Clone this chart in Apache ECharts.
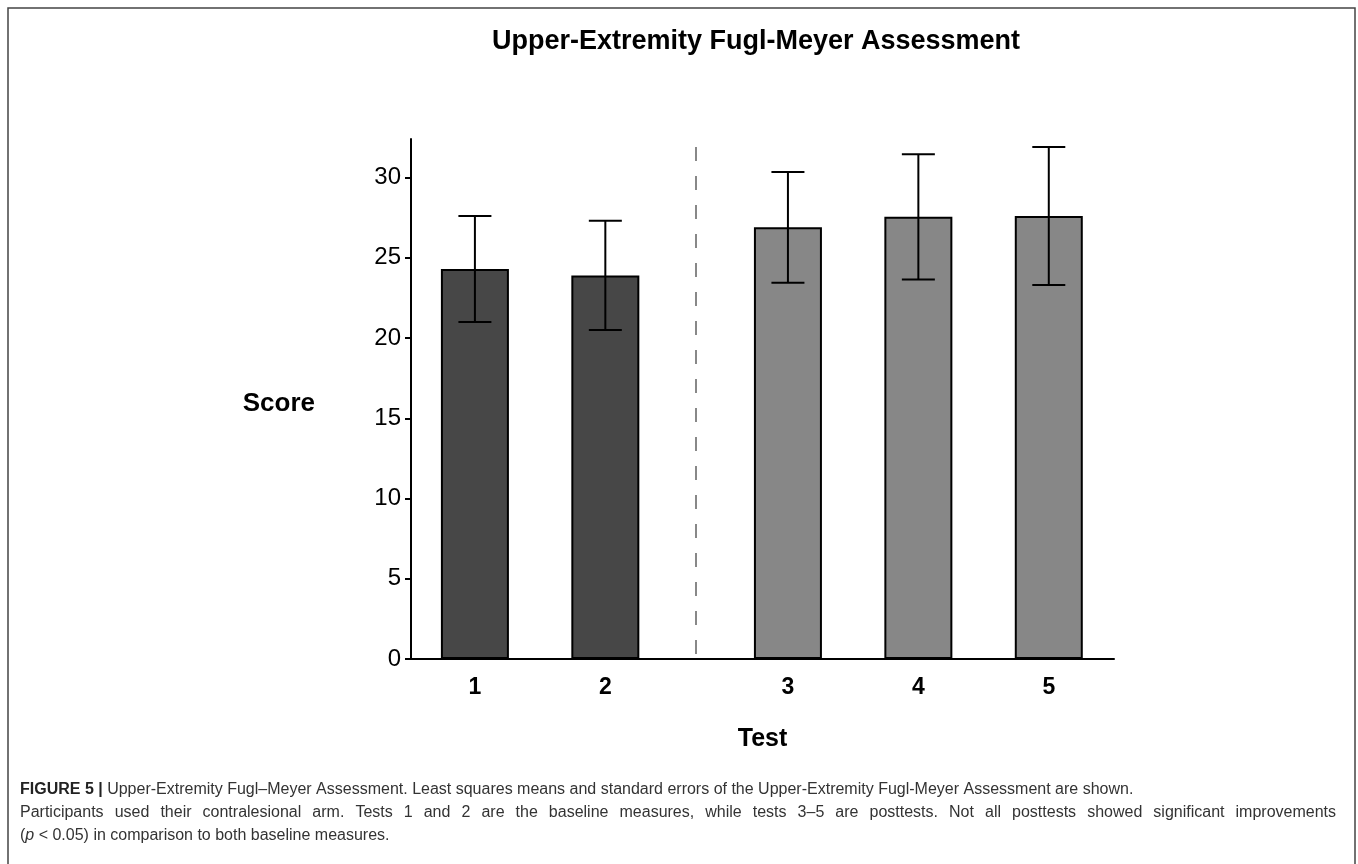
<!DOCTYPE html>
<html>
<head>
<meta charset="utf-8">
<title>Upper-Extremity Fugl-Meyer Assessment</title>
<script src="https://cdn.jsdelivr.net/npm/echarts@6/dist/echarts.min.js"></script>
<style>
  html, body { margin: 0; padding: 0; background: #fff; }
  #chart { width: 1358px; height: 864px; }
</style>
</head>
<body>
<div id="chart"></div>
<script>
// Tests, their phase, least squares means and standard errors
const tests = ['1', '2', '3', '4', '5'];
const phases = ['baseline', 'baseline', 'post', 'post', 'post'];
const means = [24.3, 23.9, 26.9, 27.55, 27.6];
const stdErrors = [3.3, 3.4, 3.45, 3.9, 4.3];
const yTicks = [0, 5, 10, 15, 20, 25, 30];

// Caption lines
const captionLead = 'FIGURE 5 |';
const captionLine1 = 'Upper-Extremity Fugl–Meyer Assessment. Least squares means and standard errors of the Upper-Extremity Fugl-Meyer Assessment are shown.';
const captionLine2 = 'Participants used their contralesional arm. Tests 1 and 2 are the baseline measures, while tests 3–5 are posttests. Not all posttests showed significant improvements';
const captionLine3 = ['(', 'p', ' < 0.05) in comparison to both baseline measures.'];

// Layout: posttests are shifted right to leave room for the divider
const POST_SHIFT = 0.4;
const DIVIDER_X = 2.69;
const DIVIDER_TOP = 31.9;
const phaseColor = { baseline: '#474747', post: '#878787' };

const positions = tests.map((t, i) => i + 1 + (phases[i] === 'post' ? POST_SHIFT : 0));

const barData = tests.map((t, i) => ({
  value: [positions[i], means[i]],
  itemStyle: { color: phaseColor[phases[i]] }
}));
const errData = tests.map((t, i) => [positions[i], means[i], stdErrors[i]]);

function labelFor(v) {
  const idx = positions.findIndex(p => Math.abs(p - v) < 1e-6);
  return idx >= 0 ? tests[idx] : '';
}

function renderErrorBar(params, api) {
  const x = api.value(0), m = api.value(1), e = api.value(2);
  const top = api.coord([x, m + e]);
  const bot = api.coord([x, m - e]);
  const half = 16.5;
  const style = { stroke: '#000', lineWidth: 2, fill: null };
  return {
    type: 'group',
    children: [
      { type: 'line', shape: { x1: top[0], y1: top[1], x2: bot[0], y2: bot[1] }, style },
      { type: 'line', shape: { x1: top[0] - half, y1: top[1], x2: top[0] + half, y2: top[1] }, style },
      { type: 'line', shape: { x1: bot[0] - half, y1: bot[1], x2: bot[0] + half, y2: bot[1] }, style }
    ]
  };
}

const FONT = '"Liberation Sans", Arial, Helvetica, sans-serif';
const CAP_SIZE = 16;
const CAP_X = 20;
const CAP_RIGHT = 1336;
const CAP_Y = [790, 813, 836];
const CAP_COLOR = '#333';

// Justified caption line: words spread evenly between CAP_X and CAP_RIGHT
function justifiedLine(text, y) {
  const ctx = document.createElement('canvas').getContext('2d');
  ctx.font = CAP_SIZE + 'px ' + FONT;
  const words = text.split(' ');
  const widths = words.map(w => ctx.measureText(w).width);
  const total = widths.reduce((a, b) => a + b, 0);
  const gap = (CAP_RIGHT - CAP_X - total) / (words.length - 1);
  let x = CAP_X;
  return words.map((w, i) => {
    const el = {
      type: 'text', silent: true,
      x: x, y: y,
      style: { text: w, font: CAP_SIZE + 'px ' + FONT, fill: CAP_COLOR, align: 'left', verticalAlign: 'middle' }
    };
    x += widths[i] + gap;
    return el;
  });
}

const chart = echarts.init(document.getElementById('chart'), null, { renderer: 'canvas' });

chart.setOption({
  animation: false,
  backgroundColor: '#fff',
  textStyle: { fontFamily: FONT },
  title: {
    text: 'Upper-Extremity Fugl-Meyer Assessment',
    left: 756,
    top: 28,
    textAlign: 'center',
    padding: 0,
    textStyle: { fontFamily: FONT, fontSize: 27, fontWeight: 'bold', color: '#000' }
  },
  grid: { left: 411, right: 244, top: 139, bottom: 205 },
  xAxis: {
    type: 'value',
    min: 0.51,
    max: 5.9,
    name: 'Test',
    nameLocation: 'middle',
    nameGap: 68,
    nameTextStyle: { fontFamily: FONT, fontSize: 25, fontWeight: 'bold', color: '#000' },
    axisLine: { show: true, onZero: false, lineStyle: { color: '#000', width: 2 } },
    axisTick: { show: false },
    splitLine: { show: false },
    axisLabel: {
      customValues: positions,
      formatter: labelFor,
      margin: 17,
      fontFamily: FONT,
      fontSize: 23,
      fontWeight: 'bold',
      color: '#000'
    }
  },
  yAxis: {
    type: 'value',
    min: 0,
    max: 32.4,
    name: 'Score',
    nameLocation: 'middle',
    nameRotate: 0,
    nameGap: 96,
    nameTextStyle: {
      fontFamily: FONT, fontSize: 26, fontWeight: 'bold', color: '#000',
      verticalAlign: 'top', lineHeight: 10
    },
    axisLine: { show: true, lineStyle: { color: '#000', width: 2 } },
    axisTick: { show: true, customValues: yTicks, length: 6, lineStyle: { color: '#000', width: 2 } },
    splitLine: { show: false },
    axisLabel: {
      customValues: yTicks,
      margin: 10,
      fontFamily: FONT,
      fontSize: 24,
      color: '#000'
    }
  },
  series: [
    {
      type: 'bar',
      data: barData,
      barWidth: 68,
      itemStyle: { borderColor: '#000', borderWidth: 2 },
      z: 2,
      markLine: {
        silent: true,
        symbol: 'none',
        label: { show: false },
        lineStyle: { color: '#888', width: 2, type: [14, 15] },
        data: [[{ coord: [DIVIDER_X, DIVIDER_TOP] }, { coord: [DIVIDER_X, 0] }]]
      }
    },
    {
      type: 'custom',
      data: errData,
      renderItem: renderErrorBar,
      z: 3
    }
  ],
  graphic: [
    {
      type: 'rect',
      shape: { x: 8, y: 8, width: 1347, height: 900 },
      style: { fill: null, stroke: '#444', lineWidth: 1.5 },
      silent: true
    },
    {
      type: 'text',
      silent: true,
      x: CAP_X,
      y: CAP_Y[0],
      style: {
        text: '{b|' + captionLead + '} ' + captionLine1,
        font: CAP_SIZE + 'px ' + FONT,
        fill: CAP_COLOR,
        verticalAlign: 'middle',
        rich: { b: { fontWeight: 'bold', fontSize: CAP_SIZE, fontFamily: FONT, fill: '#222' } }
      }
    },
    ...justifiedLine(captionLine2, CAP_Y[1]),
    {
      type: 'text',
      silent: true,
      x: CAP_X,
      y: CAP_Y[2],
      style: {
        text: captionLine3[0] + '{i|' + captionLine3[1] + '}' + captionLine3[2],
        font: CAP_SIZE + 'px ' + FONT,
        fill: CAP_COLOR,
        verticalAlign: 'middle',
        rich: { i: { fontStyle: 'italic', fontSize: CAP_SIZE, fontFamily: FONT, fill: CAP_COLOR } }
      }
    }
  ]
});
</script>
</body>
</html>
